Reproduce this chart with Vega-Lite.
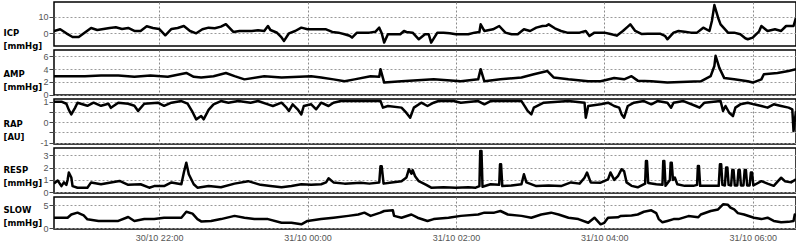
{
"$schema":"https://vega.github.io/schema/vega-lite/v6.json",
"padding":{"left":2,"top":1,"right":1,"bottom":0},
"background":"white",
"spacing":4,
"bounds":"flush",
"vconcat":[
{"width":742,"height":44,
 "data":{"values":[
{"t":"2010-10-30T20:35","v":1.4},{"t":"2010-10-30T20:40","v":2.4},{"t":"2010-10-30T20:45","v":0},{"t":"2010-10-30T20:50","v":-2.2},{"t":"2010-10-30T20:55","v":-2.2},{"t":"2010-10-30T21:00","v":0.5},{"t":"2010-10-30T21:05","v":3.2},{"t":"2010-10-30T21:10","v":2},{"t":"2010-10-30T21:15","v":2.6},{"t":"2010-10-30T21:20","v":3.2},{"t":"2010-10-30T21:25","v":3.6},{"t":"2010-10-30T21:30","v":2.6},{"t":"2010-10-30T21:35","v":3.2},{"t":"2010-10-30T21:40","v":1.4},{"t":"2010-10-30T21:45","v":1.4},{"t":"2010-10-30T21:50","v":4.2},{"t":"2010-10-30T21:55","v":3.2},{"t":"2010-10-30T22:00","v":2.6},{"t":"2010-10-30T22:05","v":-1.2},{"t":"2010-10-30T22:10","v":2.6},{"t":"2010-10-30T22:15","v":3.2},{"t":"2010-10-30T22:20","v":4.4},{"t":"2010-10-30T22:25","v":1.4},{"t":"2010-10-30T22:30","v":0},{"t":"2010-10-30T22:35","v":2.4},{"t":"2010-10-30T22:40","v":3.4},{"t":"2010-10-30T22:45","v":3.0},{"t":"2010-10-30T22:50","v":4.0},{"t":"2010-10-30T22:54","v":5.5},{"t":"2010-10-30T23:00","v":0.8},{"t":"2010-10-30T23:05","v":1.4},{"t":"2010-10-30T23:10","v":1.4},{"t":"2010-10-30T23:15","v":1.4},{"t":"2010-10-30T23:20","v":1.8},{"t":"2010-10-30T23:25","v":1.4},{"t":"2010-10-30T23:28","v":4.4},{"t":"2010-10-30T23:30","v":2.0},{"t":"2010-10-30T23:35","v":0.5},{"t":"2010-10-30T23:39","v":-2.5},{"t":"2010-10-30T23:41","v":-4.6},{"t":"2010-10-30T23:45","v":0},{"t":"2010-10-30T23:50","v":1.4},{"t":"2010-10-30T23:55","v":3.4},
{"t":"2010-10-31T00:00","v":2.4},{"t":"2010-10-31T00:05","v":2.4},{"t":"2010-10-31T00:10","v":2.4},{"t":"2010-10-31T00:15","v":2.4},{"t":"2010-10-31T00:20","v":0.8},{"t":"2010-10-31T00:25","v":0.4},{"t":"2010-10-31T00:30","v":-0.6},{"t":"2010-10-31T00:34","v":-1.5},{"t":"2010-10-31T00:36","v":-2.6},{"t":"2010-10-31T00:40","v":0.4},{"t":"2010-10-31T00:45","v":0.4},{"t":"2010-10-31T00:50","v":0.4},{"t":"2010-10-31T00:55","v":1.0},{"t":"2010-10-31T00:58","v":3.4},{"t":"2010-10-31T01:00","v":0},{"t":"2010-10-31T01:02","v":-5.6},{"t":"2010-10-31T01:05","v":-0.6},{"t":"2010-10-31T01:10","v":-0.6},{"t":"2010-10-31T01:15","v":-0.6},{"t":"2010-10-31T01:18","v":1.4},{"t":"2010-10-31T01:20","v":0.8},{"t":"2010-10-31T01:25","v":0.4},{"t":"2010-10-31T01:30","v":-3.6},{"t":"2010-10-31T01:35","v":-0.6},{"t":"2010-10-31T01:38","v":-0.6},{"t":"2010-10-31T01:40","v":-5.6},{"t":"2010-10-31T01:45","v":0.4},{"t":"2010-10-31T01:50","v":0.4},{"t":"2010-10-31T01:55","v":0},{"t":"2010-10-31T02:00","v":-0.6},{"t":"2010-10-31T02:05","v":-0.6},{"t":"2010-10-31T02:10","v":-0.6},{"t":"2010-10-31T02:15","v":0.4},{"t":"2010-10-31T02:19","v":0.8},{"t":"2010-10-31T02:20","v":5.4},{"t":"2010-10-31T02:23","v":1.4},{"t":"2010-10-31T02:30","v":2.4},{"t":"2010-10-31T02:35","v":4.4},{"t":"2010-10-31T02:40","v":0.4},{"t":"2010-10-31T02:45","v":-0.6},{"t":"2010-10-31T02:50","v":-0.6},{"t":"2010-10-31T02:55","v":2.4},{"t":"2010-10-31T03:00","v":1.4},{"t":"2010-10-31T03:05","v":3.4},{"t":"2010-10-31T03:10","v":4.4},{"t":"2010-10-31T03:13","v":4.5},{"t":"2010-10-31T03:15","v":5.4},{"t":"2010-10-31T03:20","v":3.0},{"t":"2010-10-31T03:25","v":1.4},{"t":"2010-10-31T03:30","v":0.4},{"t":"2010-10-31T03:35","v":0.4},{"t":"2010-10-31T03:40","v":0.4},{"t":"2010-10-31T03:45","v":1.4},{"t":"2010-10-31T03:48","v":-1.6},{"t":"2010-10-31T03:52","v":0.4},{"t":"2010-10-31T04:00","v":0.4},{"t":"2010-10-31T04:05","v":-0.4},{"t":"2010-10-31T04:10","v":-1.4},{"t":"2010-10-31T04:15","v":1.4},{"t":"2010-10-31T04:19","v":4.0},{"t":"2010-10-31T04:21","v":5.4},{"t":"2010-10-31T04:25","v":1.4},{"t":"2010-10-31T04:30","v":-0.4},{"t":"2010-10-31T04:35","v":-0.2},{"t":"2010-10-31T04:40","v":-0.2},{"t":"2010-10-31T04:45","v":-0.2},{"t":"2010-10-31T04:49","v":-1.5},{"t":"2010-10-31T04:51","v":-3.6},{"t":"2010-10-31T04:56","v":0.4},{"t":"2010-10-31T05:00","v":1.4},{"t":"2010-10-31T05:05","v":1.0},{"t":"2010-10-31T05:10","v":0.4},{"t":"2010-10-31T05:15","v":0.4},{"t":"2010-10-31T05:20","v":3.4},{"t":"2010-10-31T05:25","v":1.4},{"t":"2010-10-31T05:27","v":7.4},{"t":"2010-10-31T05:29","v":17},{"t":"2010-10-31T05:32","v":9.4},{"t":"2010-10-31T05:34","v":5.4},{"t":"2010-10-31T05:40","v":0.4},{"t":"2010-10-31T05:45","v":0.4},{"t":"2010-10-31T05:50","v":-0.6},{"t":"2010-10-31T05:54","v":-3.0},{"t":"2010-10-31T05:56","v":-3.6},{"t":"2010-10-31T06:00","v":-2.6},{"t":"2010-10-31T06:05","v":1.0},{"t":"2010-10-31T06:07","v":4.4},{"t":"2010-10-31T06:12","v":1.4},{"t":"2010-10-31T06:18","v":2.4},{"t":"2010-10-31T06:23","v":1.4},{"t":"2010-10-31T06:27","v":4.4},{"t":"2010-10-31T06:33","v":4.4},{"t":"2010-10-31T06:35","v":9.4}
 ]},
 "encoding":{"y":{"field":"v","type":"quantitative","scale":{"domain":[-7.65,18.86],"nice":false,"zero":false},"axis":{"values":[0,10],"title":["ICP","[mmHg]"],"titleY":30}}},
 "layer":[
  {"mark":{"type":"line","color":"#000","strokeWidth":2.5,"strokeJoin":"round","clip":true},
   "encoding":{"x":{"field":"t","type":"temporal","scale":{"domain":[{"year":2010,"month":10,"date":30,"hours":20,"minutes":35},{"year":2010,"month":10,"date":31,"hours":6,"minutes":35}]},
    "axis":{"title":null,"labels":false,"ticks":false,"domain":false,"gridColor":"#8a8a8a","gridDash":[2,2],"values":[{"year":2010,"month":10,"date":30,"hours":22},{"year":2010,"month":10,"date":31,"hours":0},{"year":2010,"month":10,"date":31,"hours":2},{"year":2010,"month":10,"date":31,"hours":4},{"year":2010,"month":10,"date":31,"hours":6}]}}}},
  {"mark":{"type":"line","strokeOpacity":0,"clip":true},
   "encoding":{"x":{"field":"t","type":"temporal","scale":{"domain":[{"year":2010,"month":10,"date":30,"hours":20,"minutes":35},{"year":2010,"month":10,"date":31,"hours":6,"minutes":35}]},
    "axis":{"orient":"top","title":null,"labels":false,"ticks":false,"domain":false,"gridColor":"#d4d4d4","gridDash":[],"values":[{"year":2010,"month":10,"date":30,"hours":21},{"year":2010,"month":10,"date":30,"hours":21,"minutes":30},{"year":2010,"month":10,"date":30,"hours":22,"minutes":30},{"year":2010,"month":10,"date":30,"hours":23},{"year":2010,"month":10,"date":30,"hours":23,"minutes":30},{"year":2010,"month":10,"date":31,"hours":0,"minutes":30},{"year":2010,"month":10,"date":31,"hours":1},{"year":2010,"month":10,"date":31,"hours":1,"minutes":30},{"year":2010,"month":10,"date":31,"hours":2,"minutes":30},{"year":2010,"month":10,"date":31,"hours":3},{"year":2010,"month":10,"date":31,"hours":3,"minutes":30},{"year":2010,"month":10,"date":31,"hours":4,"minutes":30},{"year":2010,"month":10,"date":31,"hours":5},{"year":2010,"month":10,"date":31,"hours":5,"minutes":30},{"year":2010,"month":10,"date":31,"hours":6,"minutes":30}]}}}}
 ],
 "resolve":{"axis":{"x":"independent"}}
},
{"width":742,"height":45,
 "data":{"values":[
{"t":"2010-10-30T20:35","v":2.9},{"t":"2010-10-30T20:45","v":2.9},{"t":"2010-10-30T21:00","v":2.9},{"t":"2010-10-30T21:13","v":3.0},{"t":"2010-10-30T21:27","v":3.0},{"t":"2010-10-30T21:40","v":2.8},{"t":"2010-10-30T21:53","v":3.0},{"t":"2010-10-30T22:07","v":2.8},{"t":"2010-10-30T22:22","v":3.4},{"t":"2010-10-30T22:28","v":2.8},{"t":"2010-10-30T22:34","v":2.7},{"t":"2010-10-30T22:44","v":2.9},{"t":"2010-10-30T22:54","v":3.4},{"t":"2010-10-30T23:01","v":2.9},{"t":"2010-10-30T23:09","v":2.4},{"t":"2010-10-30T23:25","v":2.9},{"t":"2010-10-30T23:39","v":2.7},
{"t":"2010-10-31T00:03","v":2.9},{"t":"2010-10-31T00:11","v":2.7},{"t":"2010-10-31T00:21","v":2.4},{"t":"2010-10-31T00:30","v":2.1},{"t":"2010-10-31T00:38","v":2.4},{"t":"2010-10-31T00:51","v":2.9},{"t":"2010-10-31T00:58","v":2.8},{"t":"2010-10-31T00:59","v":4.0},{"t":"2010-10-31T01:02","v":1.9},{"t":"2010-10-31T01:16","v":2.1},{"t":"2010-10-31T01:42","v":2.4},{"t":"2010-10-31T02:04","v":2.1},{"t":"2010-10-31T02:18","v":2.4},{"t":"2010-10-31T02:20","v":4.0},{"t":"2010-10-31T02:23","v":2.1},{"t":"2010-10-31T02:36","v":2.4},{"t":"2010-10-31T02:53","v":2.7},{"t":"2010-10-31T03:03","v":3.2},{"t":"2010-10-31T03:14","v":3.7},{"t":"2010-10-31T03:19","v":2.7},{"t":"2010-10-31T03:31","v":2.4},{"t":"2010-10-31T03:47","v":2.1},{"t":"2010-10-31T03:57","v":2.1},{"t":"2010-10-31T04:08","v":2.6},{"t":"2010-10-31T04:16","v":2.4},{"t":"2010-10-31T04:22","v":2.9},{"t":"2010-10-31T04:27","v":2.2},{"t":"2010-10-31T04:38","v":2.1},{"t":"2010-10-31T04:51","v":1.9},{"t":"2010-10-31T05:18","v":2.1},{"t":"2010-10-31T05:26","v":2.9},{"t":"2010-10-31T05:29","v":4.5},{"t":"2010-10-31T05:30","v":6.1},{"t":"2010-10-31T05:33","v":4.2},{"t":"2010-10-31T05:37","v":2.6},{"t":"2010-10-31T05:45","v":2.4},{"t":"2010-10-31T05:56","v":2.1},{"t":"2010-10-31T06:00","v":1.9},{"t":"2010-10-31T06:07","v":2.4},{"t":"2010-10-31T06:09","v":3.2},{"t":"2010-10-31T06:20","v":3.4},{"t":"2010-10-31T06:29","v":3.7},{"t":"2010-10-31T06:35","v":4.0}
 ]},
 "encoding":{"y":{"field":"v","type":"quantitative","scale":{"domain":[-0.05,7.0],"nice":false,"zero":false},"axis":{"values":[0,2,4,6],"title":["AMP","[mmHg]"],"titleY":23.5}}},
 "layer":[
  {"mark":{"type":"line","color":"#000","strokeWidth":2.5,"strokeJoin":"round","clip":true},
   "encoding":{"x":{"field":"t","type":"temporal","scale":{"domain":[{"year":2010,"month":10,"date":30,"hours":20,"minutes":35},{"year":2010,"month":10,"date":31,"hours":6,"minutes":35}]},
    "axis":{"title":null,"labels":false,"ticks":false,"domain":false,"gridColor":"#8a8a8a","gridDash":[2,2],"values":[{"year":2010,"month":10,"date":30,"hours":22},{"year":2010,"month":10,"date":31,"hours":0},{"year":2010,"month":10,"date":31,"hours":2},{"year":2010,"month":10,"date":31,"hours":4},{"year":2010,"month":10,"date":31,"hours":6}]}}}},
  {"mark":{"type":"line","strokeOpacity":0,"clip":true},
   "encoding":{"x":{"field":"t","type":"temporal","scale":{"domain":[{"year":2010,"month":10,"date":30,"hours":20,"minutes":35},{"year":2010,"month":10,"date":31,"hours":6,"minutes":35}]},
    "axis":{"orient":"top","title":null,"labels":false,"ticks":false,"domain":false,"gridColor":"#d4d4d4","gridDash":[],"values":[{"year":2010,"month":10,"date":30,"hours":21},{"year":2010,"month":10,"date":30,"hours":21,"minutes":30},{"year":2010,"month":10,"date":30,"hours":22,"minutes":30},{"year":2010,"month":10,"date":30,"hours":23},{"year":2010,"month":10,"date":30,"hours":23,"minutes":30},{"year":2010,"month":10,"date":31,"hours":0,"minutes":30},{"year":2010,"month":10,"date":31,"hours":1},{"year":2010,"month":10,"date":31,"hours":1,"minutes":30},{"year":2010,"month":10,"date":31,"hours":2,"minutes":30},{"year":2010,"month":10,"date":31,"hours":3},{"year":2010,"month":10,"date":31,"hours":3,"minutes":30},{"year":2010,"month":10,"date":31,"hours":4,"minutes":30},{"year":2010,"month":10,"date":31,"hours":5},{"year":2010,"month":10,"date":31,"hours":5,"minutes":30},{"year":2010,"month":10,"date":31,"hours":6,"minutes":30}]}}}}
 ],
 "resolve":{"axis":{"x":"independent"}}
},
{"width":742,"height":45,
 "data":{"values":[
{"t":"2010-10-30T20:35","v":1.0},{"t":"2010-10-30T20:41","v":1.0},{"t":"2010-10-30T20:45","v":0.9},{"t":"2010-10-30T20:47","v":0.6},{"t":"2010-10-30T20:49","v":0.38},{"t":"2010-10-30T20:52","v":0.7},{"t":"2010-10-30T20:54","v":0.95},{"t":"2010-10-30T21:02","v":0.8},{"t":"2010-10-30T21:07","v":0.95},{"t":"2010-10-30T21:13","v":0.8},{"t":"2010-10-30T21:19","v":0.9},{"t":"2010-10-30T21:21","v":0.7},{"t":"2010-10-30T21:27","v":0.95},{"t":"2010-10-30T21:35","v":0.9},{"t":"2010-10-30T21:40","v":0.8},{"t":"2010-10-30T21:43","v":0.55},{"t":"2010-10-30T21:48","v":0.9},{"t":"2010-10-30T21:59","v":0.95},{"t":"2010-10-30T22:04","v":0.8},{"t":"2010-10-30T22:10","v":0.95},{"t":"2010-10-30T22:18","v":1.03},{"t":"2010-10-30T22:23","v":0.9},{"t":"2010-10-30T22:27","v":0.5},{"t":"2010-10-30T22:30","v":0.14},{"t":"2010-10-30T22:34","v":0.3},{"t":"2010-10-30T22:36","v":0.14},{"t":"2010-10-30T22:40","v":0.6},{"t":"2010-10-30T22:44","v":0.87},{"t":"2010-10-30T22:50","v":1.03},{"t":"2010-10-30T22:56","v":0.95},{"t":"2010-10-30T23:04","v":1.03},{"t":"2010-10-30T23:14","v":0.95},{"t":"2010-10-30T23:20","v":1.03},{"t":"2010-10-30T23:28","v":0.87},{"t":"2010-10-30T23:32","v":0.79},{"t":"2010-10-30T23:39","v":0.95},{"t":"2010-10-30T23:43","v":0.71},{"t":"2010-10-30T23:45","v":0.55},{"t":"2010-10-30T23:48","v":0.87},{"t":"2010-10-30T23:52","v":0.63},{"t":"2010-10-30T23:55","v":0.38},{"t":"2010-10-30T23:57","v":0.79},
{"t":"2010-10-31T00:03","v":0.87},{"t":"2010-10-31T00:07","v":0.63},{"t":"2010-10-31T00:11","v":0.95},{"t":"2010-10-31T00:17","v":0.79},{"t":"2010-10-31T00:21","v":0.95},{"t":"2010-10-31T00:27","v":1.03},{"t":"2010-10-31T00:59","v":1.03},{"t":"2010-10-31T01:01","v":0.71},{"t":"2010-10-31T01:05","v":0.79},{"t":"2010-10-31T01:16","v":0.71},{"t":"2010-10-31T01:20","v":0.45},{"t":"2010-10-31T01:23","v":0.22},{"t":"2010-10-31T01:26","v":0.71},{"t":"2010-10-31T01:32","v":0.95},{"t":"2010-10-31T01:37","v":0.79},{"t":"2010-10-31T01:42","v":0.95},{"t":"2010-10-31T01:46","v":1.03},{"t":"2010-10-31T01:58","v":1.03},{"t":"2010-10-31T02:04","v":0.95},{"t":"2010-10-31T02:18","v":1.03},{"t":"2010-10-31T02:23","v":0.87},{"t":"2010-10-31T02:28","v":1.03},{"t":"2010-10-31T02:53","v":1.03},{"t":"2010-10-31T02:56","v":0.75},{"t":"2010-10-31T02:58","v":0.55},{"t":"2010-10-31T03:01","v":0.38},{"t":"2010-10-31T03:03","v":0.71},{"t":"2010-10-31T03:11","v":0.95},{"t":"2010-10-31T03:31","v":1.03},{"t":"2010-10-31T03:44","v":0.95},{"t":"2010-10-31T03:45","v":0.22},{"t":"2010-10-31T03:47","v":0.79},{"t":"2010-10-31T03:57","v":0.87},{"t":"2010-10-31T04:03","v":0.95},{"t":"2010-10-31T04:08","v":0.79},{"t":"2010-10-31T04:12","v":0.71},{"t":"2010-10-31T04:14","v":0.38},{"t":"2010-10-31T04:16","v":0.22},{"t":"2010-10-31T04:19","v":0.79},{"t":"2010-10-31T04:24","v":0.95},{"t":"2010-10-31T04:32","v":1.03},{"t":"2010-10-31T04:38","v":0.87},{"t":"2010-10-31T04:43","v":1.03},{"t":"2010-10-31T04:51","v":0.95},{"t":"2010-10-31T04:54","v":0.71},{"t":"2010-10-31T04:56","v":0.95},{"t":"2010-10-31T05:04","v":1.03},{"t":"2010-10-31T05:14","v":0.79},{"t":"2010-10-31T05:17","v":0.71},{"t":"2010-10-31T05:21","v":0.95},{"t":"2010-10-31T05:34","v":1.03},{"t":"2010-10-31T05:36","v":0.55},{"t":"2010-10-31T05:38","v":0.79},{"t":"2010-10-31T05:41","v":0.46},{"t":"2010-10-31T05:44","v":0.3},{"t":"2010-10-31T05:46","v":0.71},{"t":"2010-10-31T05:50","v":0.87},{"t":"2010-10-31T05:56","v":0.95},{"t":"2010-10-31T06:01","v":0.87},{"t":"2010-10-31T06:07","v":0.79},{"t":"2010-10-31T06:12","v":0.71},{"t":"2010-10-31T06:17","v":0.87},{"t":"2010-10-31T06:23","v":0.79},{"t":"2010-10-31T06:29","v":0.71},{"t":"2010-10-31T06:32","v":0.63},{"t":"2010-10-31T06:33","v":-0.43},{"t":"2010-10-31T06:35","v":0.55}
 ]},
 "encoding":{"y":{"field":"v","type":"quantitative","scale":{"domain":[-1.06,1.13],"nice":false,"zero":false},"axis":{"values":[-1,-0.5,0,0.5,1],"labelExpr":"datum.value==1?'1':datum.value==0?'0':datum.value==-1?'-1':''","title":["RAP","[AU]"],"titleY":24.5}}},
 "layer":[
  {"mark":{"type":"line","color":"#000","strokeWidth":2.5,"strokeJoin":"round","clip":true},
   "encoding":{"x":{"field":"t","type":"temporal","scale":{"domain":[{"year":2010,"month":10,"date":30,"hours":20,"minutes":35},{"year":2010,"month":10,"date":31,"hours":6,"minutes":35}]},
    "axis":{"title":null,"labels":false,"ticks":false,"domain":false,"gridColor":"#8a8a8a","gridDash":[2,2],"values":[{"year":2010,"month":10,"date":30,"hours":22},{"year":2010,"month":10,"date":31,"hours":0},{"year":2010,"month":10,"date":31,"hours":2},{"year":2010,"month":10,"date":31,"hours":4},{"year":2010,"month":10,"date":31,"hours":6}]}}}},
  {"mark":{"type":"line","strokeOpacity":0,"clip":true},
   "encoding":{"x":{"field":"t","type":"temporal","scale":{"domain":[{"year":2010,"month":10,"date":30,"hours":20,"minutes":35},{"year":2010,"month":10,"date":31,"hours":6,"minutes":35}]},
    "axis":{"orient":"top","title":null,"labels":false,"ticks":false,"domain":false,"gridColor":"#d4d4d4","gridDash":[],"values":[{"year":2010,"month":10,"date":30,"hours":21},{"year":2010,"month":10,"date":30,"hours":21,"minutes":30},{"year":2010,"month":10,"date":30,"hours":22,"minutes":30},{"year":2010,"month":10,"date":30,"hours":23},{"year":2010,"month":10,"date":30,"hours":23,"minutes":30},{"year":2010,"month":10,"date":31,"hours":0,"minutes":30},{"year":2010,"month":10,"date":31,"hours":1},{"year":2010,"month":10,"date":31,"hours":1,"minutes":30},{"year":2010,"month":10,"date":31,"hours":2,"minutes":30},{"year":2010,"month":10,"date":31,"hours":3},{"year":2010,"month":10,"date":31,"hours":3,"minutes":30},{"year":2010,"month":10,"date":31,"hours":4,"minutes":30},{"year":2010,"month":10,"date":31,"hours":5},{"year":2010,"month":10,"date":31,"hours":5,"minutes":30},{"year":2010,"month":10,"date":31,"hours":6,"minutes":30}]}}}}
 ],
 "resolve":{"axis":{"x":"independent"}}
},
{"width":742,"height":45,
 "data":{"values":[
{"t":"2010-10-30T20:35","v":0.7},{"t":"2010-10-30T20:38","v":0.95},{"t":"2010-10-30T20:41","v":0.5},{"t":"2010-10-30T20:43","v":0.8},{"t":"2010-10-30T20:45","v":0.6},{"t":"2010-10-30T20:46","v":1.0},{"t":"2010-10-30T20:47","v":1.6},{"t":"2010-10-30T20:49","v":1.2},{"t":"2010-10-30T20:50","v":0.5},{"t":"2010-10-30T20:54","v":0.37},{"t":"2010-10-30T21:02","v":0.37},{"t":"2010-10-30T21:05","v":0.8},{"t":"2010-10-30T21:13","v":0.65},{"t":"2010-10-30T21:21","v":0.8},{"t":"2010-10-30T21:28","v":0.92},{"t":"2010-10-30T21:35","v":0.6},{"t":"2010-10-30T21:45","v":0.65},{"t":"2010-10-30T21:52","v":0.37},{"t":"2010-10-30T21:56","v":0.5},{"t":"2010-10-30T22:04","v":0.5},{"t":"2010-10-30T22:10","v":0.8},{"t":"2010-10-30T22:18","v":0.65},{"t":"2010-10-30T22:20","v":1.6},{"t":"2010-10-30T22:22","v":2.4},{"t":"2010-10-30T22:24","v":1.46},{"t":"2010-10-30T22:28","v":0.65},{"t":"2010-10-30T22:31","v":0.37},{"t":"2010-10-30T22:40","v":0.5},{"t":"2010-10-30T22:50","v":0.4},{"t":"2010-10-30T23:01","v":0.7},{"t":"2010-10-30T23:12","v":0.9},{"t":"2010-10-30T23:22","v":0.6},{"t":"2010-10-30T23:30","v":0.5},{"t":"2010-10-30T23:39","v":0.4},{"t":"2010-10-30T23:47","v":0.5},{"t":"2010-10-30T23:55","v":0.65},
{"t":"2010-10-31T00:03","v":0.6},{"t":"2010-10-31T00:11","v":0.65},{"t":"2010-10-31T00:15","v":0.8},{"t":"2010-10-31T00:17","v":1.13},{"t":"2010-10-31T00:21","v":0.8},{"t":"2010-10-31T00:30","v":0.7},{"t":"2010-10-31T00:43","v":0.78},{"t":"2010-10-31T00:50","v":0.7},{"t":"2010-10-31T00:58","v":0.8},{"t":"2010-10-31T00:59","v":2.1},{"t":"2010-10-31T01:00","v":2.1},{"t":"2010-10-31T01:01:30","v":0.7},{"t":"2010-10-31T01:08","v":0.8},{"t":"2010-10-31T01:16","v":0.9},{"t":"2010-10-31T01:20","v":1.2},{"t":"2010-10-31T01:22","v":1.87},{"t":"2010-10-31T01:24","v":1.5},{"t":"2010-10-31T01:25","v":1.8},{"t":"2010-10-31T01:27","v":1.3},{"t":"2010-10-31T01:30","v":0.9},{"t":"2010-10-31T01:36","v":0.6},{"t":"2010-10-31T01:40","v":0.37},{"t":"2010-10-31T01:50","v":0.4},{"t":"2010-10-31T02:00","v":0.37},{"t":"2010-10-31T02:10","v":0.4},{"t":"2010-10-31T02:16","v":0.37},{"t":"2010-10-31T02:19","v":0.5},{"t":"2010-10-31T02:19:40","v":3.35},{"t":"2010-10-31T02:20:40","v":3.35},{"t":"2010-10-31T02:21:30","v":0.45},{"t":"2010-10-31T02:28","v":0.65},{"t":"2010-10-31T02:35","v":0.6},{"t":"2010-10-31T02:35:40","v":2.27},{"t":"2010-10-31T02:36:30","v":2.27},{"t":"2010-10-31T02:37:30","v":0.5},{"t":"2010-10-31T02:45","v":0.55},{"t":"2010-10-31T02:53","v":0.65},{"t":"2010-10-31T02:55","v":1.46},{"t":"2010-10-31T02:57","v":0.8},{"t":"2010-10-31T03:05","v":0.5},{"t":"2010-10-31T03:15","v":0.55},{"t":"2010-10-31T03:25","v":0.5},{"t":"2010-10-31T03:33","v":0.8},{"t":"2010-10-31T03:40","v":0.7},{"t":"2010-10-31T03:44","v":1.18},{"t":"2010-10-31T03:46","v":1.6},{"t":"2010-10-31T03:49","v":0.8},{"t":"2010-10-31T03:57","v":0.78},{"t":"2010-10-31T04:03","v":1.05},{"t":"2010-10-31T04:05","v":1.6},{"t":"2010-10-31T04:08","v":1.0},{"t":"2010-10-31T04:11","v":1.3},{"t":"2010-10-31T04:14","v":1.87},{"t":"2010-10-31T04:16","v":1.7},{"t":"2010-10-31T04:18","v":0.8},{"t":"2010-10-31T04:22","v":0.52},{"t":"2010-10-31T04:27","v":0.4},{"t":"2010-10-31T04:33","v":0.7},{"t":"2010-10-31T04:33:40","v":2.54},{"t":"2010-10-31T04:34:30","v":2.54},{"t":"2010-10-31T04:35:30","v":0.75},{"t":"2010-10-31T04:42","v":0.65},{"t":"2010-10-31T04:47","v":0.6},{"t":"2010-10-31T04:47:40","v":2.54},{"t":"2010-10-31T04:48:30","v":2.54},{"t":"2010-10-31T04:49:30","v":0.52},{"t":"2010-10-31T04:53","v":1.0},{"t":"2010-10-31T04:53:40","v":2.4},{"t":"2010-10-31T04:54:30","v":2.4},{"t":"2010-10-31T04:55:30","v":1.0},{"t":"2010-10-31T04:57","v":1.2},{"t":"2010-10-31T04:59","v":0.65},{"t":"2010-10-31T05:05","v":0.52},{"t":"2010-10-31T05:12","v":0.52},{"t":"2010-10-31T05:15","v":0.6},{"t":"2010-10-31T05:15:40","v":2.13},{"t":"2010-10-31T05:16:30","v":2.13},{"t":"2010-10-31T05:17:30","v":0.52},{"t":"2010-10-31T05:25","v":0.52},{"t":"2010-10-31T05:32:30","v":0.52},{"t":"2010-10-31T05:33:30","v":2.27},{"t":"2010-10-31T05:34:30","v":2.27},{"t":"2010-10-31T05:35:30","v":0.6},{"t":"2010-10-31T05:37:30","v":0.55},{"t":"2010-10-31T05:38:30","v":2.0},{"t":"2010-10-31T05:39:30","v":2.0},{"t":"2010-10-31T05:40:30","v":0.6},{"t":"2010-10-31T05:42:30","v":0.55},{"t":"2010-10-31T05:43:30","v":1.8},{"t":"2010-10-31T05:44:30","v":1.8},{"t":"2010-10-31T05:45:30","v":0.55},{"t":"2010-10-31T05:47:30","v":0.55},{"t":"2010-10-31T05:48:30","v":1.8},{"t":"2010-10-31T05:49:30","v":1.8},{"t":"2010-10-31T05:50:30","v":0.55},{"t":"2010-10-31T05:52:30","v":0.55},{"t":"2010-10-31T05:53:30","v":1.8},{"t":"2010-10-31T05:54:30","v":1.8},{"t":"2010-10-31T05:55:30","v":0.55},{"t":"2010-10-31T05:57:30","v":0.55},{"t":"2010-10-31T05:58:30","v":1.6},{"t":"2010-10-31T05:59:30","v":1.6},{"t":"2010-10-31T06:00:30","v":0.55},{"t":"2010-10-31T06:07","v":0.9},{"t":"2010-10-31T06:12","v":0.7},{"t":"2010-10-31T06:17","v":0.52},{"t":"2010-10-31T06:23","v":1.18},{"t":"2010-10-31T06:26","v":0.9},{"t":"2010-10-31T06:31","v":0.8},{"t":"2010-10-31T06:35","v":1.05}
 ]},
 "encoding":{"y":{"field":"v","type":"quantitative","scale":{"domain":[-0.06,3.59],"nice":false,"zero":false},"axis":{"values":[0,1,2,3],"title":["RESP","[mmHg]"],"titleY":21}}},
 "layer":[
  {"mark":{"type":"line","color":"#000","strokeWidth":2.5,"strokeJoin":"round","clip":true},
   "encoding":{"x":{"field":"t","type":"temporal","scale":{"domain":[{"year":2010,"month":10,"date":30,"hours":20,"minutes":35},{"year":2010,"month":10,"date":31,"hours":6,"minutes":35}]},
    "axis":{"title":null,"labels":false,"ticks":false,"domain":false,"gridColor":"#8a8a8a","gridDash":[2,2],"values":[{"year":2010,"month":10,"date":30,"hours":22},{"year":2010,"month":10,"date":31,"hours":0},{"year":2010,"month":10,"date":31,"hours":2},{"year":2010,"month":10,"date":31,"hours":4},{"year":2010,"month":10,"date":31,"hours":6}]}}}},
  {"mark":{"type":"line","strokeOpacity":0,"clip":true},
   "encoding":{"x":{"field":"t","type":"temporal","scale":{"domain":[{"year":2010,"month":10,"date":30,"hours":20,"minutes":35},{"year":2010,"month":10,"date":31,"hours":6,"minutes":35}]},
    "axis":{"orient":"top","title":null,"labels":false,"ticks":false,"domain":false,"gridColor":"#d4d4d4","gridDash":[],"values":[{"year":2010,"month":10,"date":30,"hours":21},{"year":2010,"month":10,"date":30,"hours":21,"minutes":30},{"year":2010,"month":10,"date":30,"hours":22,"minutes":30},{"year":2010,"month":10,"date":30,"hours":23},{"year":2010,"month":10,"date":30,"hours":23,"minutes":30},{"year":2010,"month":10,"date":31,"hours":0,"minutes":30},{"year":2010,"month":10,"date":31,"hours":1},{"year":2010,"month":10,"date":31,"hours":1,"minutes":30},{"year":2010,"month":10,"date":31,"hours":2,"minutes":30},{"year":2010,"month":10,"date":31,"hours":3},{"year":2010,"month":10,"date":31,"hours":3,"minutes":30},{"year":2010,"month":10,"date":31,"hours":4,"minutes":30},{"year":2010,"month":10,"date":31,"hours":5},{"year":2010,"month":10,"date":31,"hours":5,"minutes":30},{"year":2010,"month":10,"date":31,"hours":6,"minutes":30}]}}}}
 ],
 "resolve":{"axis":{"x":"independent"}}
},
{"width":742,"height":32,
 "data":{"values":[
{"t":"2010-10-30T20:35","v":2.3},{"t":"2010-10-30T20:46","v":2.3},{"t":"2010-10-30T20:49","v":3.0},{"t":"2010-10-30T20:54","v":3.4},{"t":"2010-10-30T20:59","v":2.8},{"t":"2010-10-30T21:02","v":1.96},{"t":"2010-10-30T21:11","v":1.6},{"t":"2010-10-30T21:27","v":1.6},{"t":"2010-10-30T21:35","v":2.46},{"t":"2010-10-30T21:40","v":1.6},{"t":"2010-10-30T21:48","v":2.0},{"t":"2010-10-30T21:56","v":2.0},{"t":"2010-10-30T22:04","v":2.3},{"t":"2010-10-30T22:18","v":2.3},{"t":"2010-10-30T22:22","v":3.6},{"t":"2010-10-30T22:27","v":3.2},{"t":"2010-10-30T22:31","v":2.0},{"t":"2010-10-30T22:34","v":1.5},{"t":"2010-10-30T22:42","v":1.6},{"t":"2010-10-30T22:50","v":2.0},{"t":"2010-10-30T23:01","v":2.7},{"t":"2010-10-30T23:09","v":2.3},{"t":"2010-10-30T23:17","v":2.0},{"t":"2010-10-30T23:28","v":2.0},{"t":"2010-10-30T23:39","v":1.2},{"t":"2010-10-30T23:47","v":1.2},{"t":"2010-10-30T23:55","v":0.87},
{"t":"2010-10-31T00:00","v":1.6},{"t":"2010-10-31T00:11","v":2.0},{"t":"2010-10-31T00:21","v":2.3},{"t":"2010-10-31T00:33","v":2.7},{"t":"2010-10-31T00:41","v":3.0},{"t":"2010-10-31T00:46","v":3.4},{"t":"2010-10-31T00:51","v":2.7},{"t":"2010-10-31T00:59","v":3.4},{"t":"2010-10-31T01:02","v":3.76},{"t":"2010-10-31T01:09","v":3.9},{"t":"2010-10-31T01:10","v":2.7},{"t":"2010-10-31T01:16","v":2.3},{"t":"2010-10-31T01:24","v":3.0},{"t":"2010-10-31T01:29","v":2.3},{"t":"2010-10-31T01:37","v":1.6},{"t":"2010-10-31T01:42","v":2.0},{"t":"2010-10-31T01:54","v":2.3},{"t":"2010-10-31T02:04","v":2.7},{"t":"2010-10-31T02:18","v":3.0},{"t":"2010-10-31T02:23","v":3.4},{"t":"2010-10-31T02:31","v":3.4},{"t":"2010-10-31T02:36","v":3.76},{"t":"2010-10-31T02:42","v":3.0},{"t":"2010-10-31T02:53","v":2.7},{"t":"2010-10-31T03:01","v":2.3},{"t":"2010-10-31T03:09","v":3.0},{"t":"2010-10-31T03:17","v":3.4},{"t":"2010-10-31T03:23","v":3.0},{"t":"2010-10-31T03:31","v":2.3},{"t":"2010-10-31T03:39","v":2.0},{"t":"2010-10-31T03:47","v":1.2},{"t":"2010-10-31T03:52","v":2.3},{"t":"2010-10-31T03:57","v":0.87},{"t":"2010-10-31T04:00","v":1.2},{"t":"2010-10-31T04:03","v":2.3},{"t":"2010-10-31T04:11","v":2.4},{"t":"2010-10-31T04:13","v":2.65},{"t":"2010-10-31T04:22","v":2.8},{"t":"2010-10-31T04:27","v":3.0},{"t":"2010-10-31T04:32","v":3.6},{"t":"2010-10-31T04:38","v":3.9},{"t":"2010-10-31T04:42","v":3.3},{"t":"2010-10-31T04:44","v":2.0},{"t":"2010-10-31T04:47","v":1.3},{"t":"2010-10-31T04:51","v":1.6},{"t":"2010-10-31T04:56","v":2.0},{"t":"2010-10-31T05:00","v":2.0},{"t":"2010-10-31T05:08","v":2.65},{"t":"2010-10-31T05:16","v":2.4},{"t":"2010-10-31T05:18","v":3.0},{"t":"2010-10-31T05:26","v":3.76},{"t":"2010-10-31T05:32","v":4.1},{"t":"2010-10-31T05:36","v":5.2},{"t":"2010-10-31T05:40","v":5.1},{"t":"2010-10-31T05:42","v":4.5},{"t":"2010-10-31T05:45","v":4.1},{"t":"2010-10-31T05:48","v":3.3},{"t":"2010-10-31T05:53","v":3.0},{"t":"2010-10-31T06:01","v":2.3},{"t":"2010-10-31T06:07","v":2.0},{"t":"2010-10-31T06:12","v":2.3},{"t":"2010-10-31T06:17","v":1.6},{"t":"2010-10-31T06:23","v":1.3},{"t":"2010-10-31T06:29","v":1.4},{"t":"2010-10-31T06:33","v":1.6},{"t":"2010-10-31T06:34","v":3.0},{"t":"2010-10-31T06:35","v":2.6}
 ]},
 "encoding":{"y":{"field":"v","type":"quantitative","scale":{"domain":[-0.15,6.8],"nice":false,"zero":false},"axis":{"values":[0,5],"title":["SLOW","[mmHg]"],"titleY":12}}},
 "layer":[
  {"mark":{"type":"line","color":"#000","strokeWidth":2.5,"strokeJoin":"round","clip":true},
   "encoding":{"x":{"field":"t","type":"temporal","scale":{"domain":[{"year":2010,"month":10,"date":30,"hours":20,"minutes":35},{"year":2010,"month":10,"date":31,"hours":6,"minutes":35}]},
    "axis":{"title":null,"labels":true,"format":"%d/%m %H:%M","labelPadding":4,"labelOverlap":false,"labelFlush":false,"ticks":false,"domain":false,"gridColor":"#8a8a8a","gridDash":[2,2],"values":[{"year":2010,"month":10,"date":30,"hours":22},{"year":2010,"month":10,"date":31,"hours":0},{"year":2010,"month":10,"date":31,"hours":2},{"year":2010,"month":10,"date":31,"hours":4},{"year":2010,"month":10,"date":31,"hours":6}]}}}},
  {"mark":{"type":"line","strokeOpacity":0,"clip":true},
   "encoding":{"x":{"field":"t","type":"temporal","scale":{"domain":[{"year":2010,"month":10,"date":30,"hours":20,"minutes":35},{"year":2010,"month":10,"date":31,"hours":6,"minutes":35}]},
    "axis":{"orient":"top","title":null,"labels":false,"ticks":false,"domain":false,"gridColor":"#d4d4d4","gridDash":[],"values":[{"year":2010,"month":10,"date":30,"hours":21},{"year":2010,"month":10,"date":30,"hours":21,"minutes":30},{"year":2010,"month":10,"date":30,"hours":22,"minutes":30},{"year":2010,"month":10,"date":30,"hours":23},{"year":2010,"month":10,"date":30,"hours":23,"minutes":30},{"year":2010,"month":10,"date":31,"hours":0,"minutes":30},{"year":2010,"month":10,"date":31,"hours":1},{"year":2010,"month":10,"date":31,"hours":1,"minutes":30},{"year":2010,"month":10,"date":31,"hours":2,"minutes":30},{"year":2010,"month":10,"date":31,"hours":3},{"year":2010,"month":10,"date":31,"hours":3,"minutes":30},{"year":2010,"month":10,"date":31,"hours":4,"minutes":30},{"year":2010,"month":10,"date":31,"hours":5},{"year":2010,"month":10,"date":31,"hours":5,"minutes":30},{"year":2010,"month":10,"date":31,"hours":6,"minutes":30}]}}}}
 ],
 "resolve":{"axis":{"x":"independent"}}
}
],
"config":{
 "view":{"stroke":"#000","strokeWidth":1.5},
 "axis":{"labelFont":"Liberation Sans","labelFontSize":9,"labelColor":"#555"},
 "axisY":{"domain":false,"tickSize":5,"tickColor":"#444","labelPadding":1,"gridColor":"#9a9a9a","gridDash":[2,2],"titleAngle":0,"titleAlign":"left","titleBaseline":"middle","titleX":-51,"titleFont":"DejaVu Sans","titleFontSize":8.5,"titleFontWeight":"bold","titleColor":"#000","titleLineHeight":13}
}
}
